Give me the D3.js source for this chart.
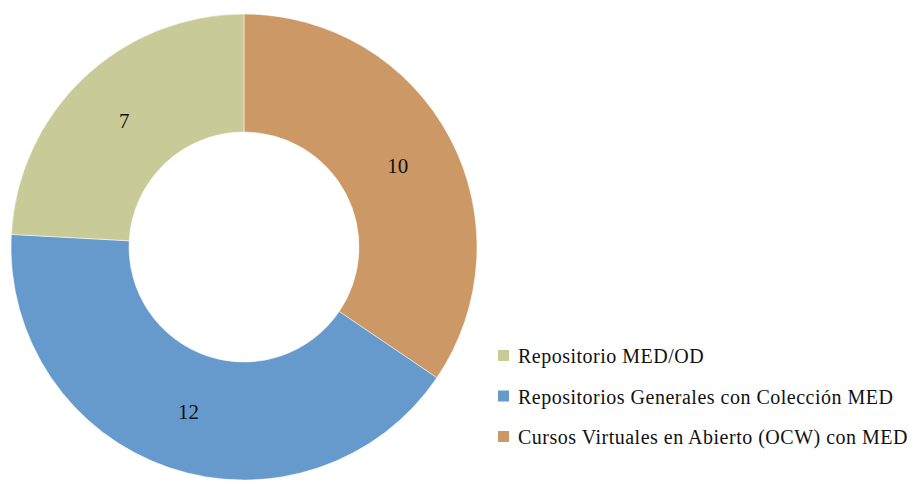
<!DOCTYPE html>
<html>
<head>
<meta charset="utf-8">
<script src="https://cdn.jsdelivr.net/npm/d3@7"></script>
<style>
  body { margin: 0; background: #fff; }
  text { font-family: "Liberation Serif", "DejaVu Serif", serif; }
</style>
</head>
<body>
<div id="chart"></div>
<script>
const categories = ['Cursos Virtuales en Abierto (OCW) con MED', 'Repositorios Generales con Colección MED', 'Repositorio MED/OD'];
const values = [10, 12, 7];
const colors = ['#CC9966', '#6699CC', '#C8CB97'];
// legend order as in the picture
const legendOrder = ['Repositorio MED/OD', 'Repositorios Generales con Colección MED', 'Cursos Virtuales en Abierto (OCW) con MED'];

const width = 912, height = 481;
const cx = 244, cy = 247;
const outerR = 233, innerR = 115;

const svg = d3.select('#chart').append('svg')
  .attr('width', width)
  .attr('height', height);

const color = d3.scaleOrdinal().domain(categories).range(colors);

const pie = d3.pie().sort(null).value((d) => d.value);
const arcs = pie(categories.map((c, i) => ({name: c, value: values[i]})));

const arc = d3.arc().innerRadius(innerR).outerRadius(outerR);

const g = svg.append('g').attr('transform', `translate(${cx}, ${cy})`);

g.selectAll('path')
  .data(arcs)
  .enter().append('path')
  .attr('d', arc)
  .attr('fill', (d) => color(d.data.name))
  .attr('stroke', '#fff')
  .attr('stroke-width', 0.5);

g.selectAll('text.lbl')
  .data(arcs)
  .enter().append('text')
  .attr('class', 'lbl')
  .attr('transform', (d) => `translate(${arc.centroid(d)})`)
  .attr('text-anchor', 'middle')
  .attr('dy', '0.35em')
  .style('font-size', '21px')
  .style('fill', '#111')
  .text((d) => d.data.value);

// legend
const legend = svg.append('g').attr('transform', 'translate(498, 356)');
const rowH = 40.5;
const item = legend.selectAll('g')
  .data(legendOrder)
  .enter().append('g')
  .attr('transform', (d, i) => `translate(0, ${i * rowH})`);

item.append('rect')
  .attr('x', 0).attr('y', -6)
  .attr('width', 11).attr('height', 11)
  .attr('fill', (d) => color(d));

item.append('text')
  .attr('x', 20)
  .attr('dy', '0.35em')
  .style('font-size', '20px')
  .style('letter-spacing', '0.5px')
  .style('fill', '#111')
  .text((d) => d);
</script>
</body>
</html>
